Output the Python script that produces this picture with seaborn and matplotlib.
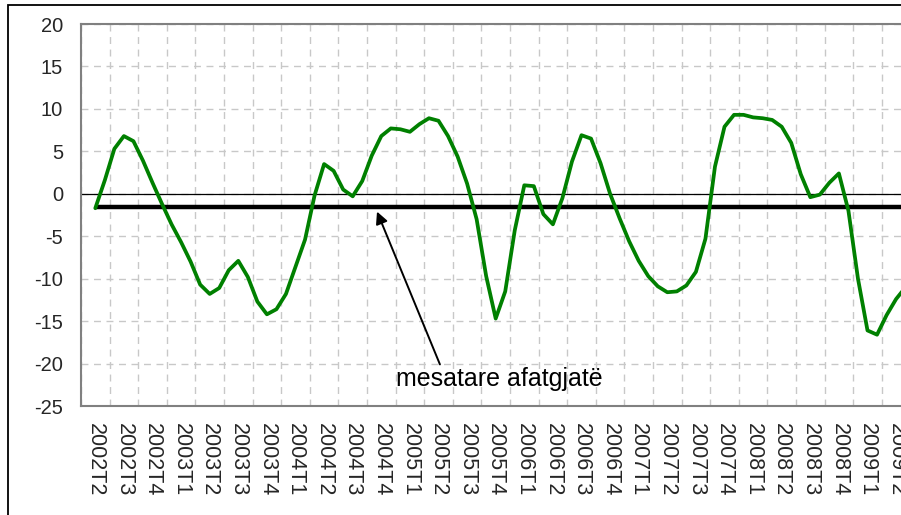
import numpy as np
import pandas as pd
import matplotlib
matplotlib.use("Agg")
import matplotlib.pyplot as plt
from matplotlib.patches import Rectangle
import seaborn as sns

# quarter labels on the category axis
quarters = ["2002T2", "2002T3", "2002T4",
            "2003T1", "2003T2", "2003T3", "2003T4",
            "2004T1", "2004T2", "2004T3", "2004T4",
            "2005T1", "2005T2", "2005T3", "2005T4",
            "2006T1", "2006T2", "2006T3", "2006T4",
            "2007T1", "2007T2", "2007T3", "2007T4",
            "2008T1", "2008T2", "2008T3", "2008T4",
            "2009T1", "2009T2"]

# indicator, read monthly (3 readings per quarter) from the picture
indicator = [-1.7, 1.6, 5.3, 6.8, 6.2, 3.9, 1.3, -1.2, -3.6, -5.7,
             -8.0, -10.7, -11.8, -11.1, -9.0, -7.9, -9.8, -12.7, -14.2, -13.6,
             -11.8, -8.6, -5.4, -0.2, 3.5, 2.7, 0.5, -0.3, 1.5, 4.5,
             6.8, 7.7, 7.6, 7.3, 8.2, 8.9, 8.6, 6.8, 4.4, 1.2,
             -3.0, -9.7, -14.7, -11.5, -4.3, 1.0, 0.9, -2.4, -3.6, -0.5,
             3.8, 6.9, 6.5, 3.6, 0.0, -2.9, -5.6, -7.9, -9.7, -10.9,
             -11.6, -11.5, -10.8, -9.2, -5.3, 3.2, 7.9, 9.3, 9.3, 9.0,
             8.9, 8.7, 7.9, 6.0, 2.3, -0.4, -0.1, 1.3, 2.4, -2.0,
             -10.0, -16.1, -16.6, -14.3, -12.4, -11.0]

long_term_average = -1.5
annotation_label = "mesatare afatgjatë"

n = len(indicator)
pos = np.arange(n) / 3.0  # position in quarter units
df = pd.DataFrame({"pos": pos, "value": indicator,
                   "avg": [long_term_average] * n})

sns.set_style("white")
plt.rcParams["font.family"] = ["Liberation Sans", "DejaVu Sans"]

W, H = 901, 515
fig = plt.figure(figsize=(W / 100, H / 100), dpi=100)
fig.patch.set_facecolor("white")

# axes geometry in pixels
left_px, top_px, bottom_px = 81, 24, 406
cat_w = 28.6
ax_w = cat_w * len(quarters)
ax = fig.add_axes([left_px / W, (H - bottom_px) / H, ax_w / W, (bottom_px - top_px) / H])

# outer chart frame
fig.patches.append(Rectangle((8 / W, -0.2), 1.5, (H - 4.5) / H + 0.2, fill=False,
                             edgecolor="black", lw=1.3, transform=fig.transFigure,
                             figure=fig, clip_on=False))

ax.set_xlim(-0.5, len(quarters) - 0.5)
ax.set_ylim(-25, 20)

# grid
ax.set_yticks(np.arange(-25, 21, 5))
ax.set_xticks(np.arange(len(quarters)))
ax.set_xticks(np.arange(len(quarters) + 1) - 0.5, minor=True)
ax.grid(False)
ax.grid(True, which="major", axis="y", color="#c8c8c8", lw=1.0, linestyle=(0, (5, 4)))
ax.grid(True, which="minor", axis="x", color="#c8c8c8", lw=1.0, linestyle=(0, (5, 4)))
ax.set_axisbelow(True)

ax.axhline(0, color="black", lw=0.9, zorder=2)

sns.lineplot(data=df, x="pos", y="avg", ax=ax, color="black", lw=3.2,
             solid_capstyle="butt", zorder=3)
sns.lineplot(data=df, x="pos", y="value", ax=ax, color="#008000", lw=2.7,
             solid_joinstyle="round", solid_capstyle="round", zorder=4)

ax.set_xticklabels(quarters, rotation=270, fontsize=15.5, ha="center", va="top")
ax.set_yticklabels([str(v) for v in range(-25, 21, 5)], fontsize=14.5)
ax.tick_params(axis="both", which="both", length=0)
ax.tick_params(axis="x", pad=12)
ax.tick_params(axis="y", pad=13)
ax.set_xlabel("")
ax.set_ylabel("")

for s in ["left", "top", "bottom", "right"]:
    ax.spines[s].set_visible(True)
    ax.spines[s].set_color("#808080")
    ax.spines[s].set_linewidth(1.5)

# annotation
ax.annotate("", xy=(9.85, -2.1), xytext=(12.05, -20.1),
            arrowprops=dict(arrowstyle="-|>", color="black", lw=1.4,
                            mutation_scale=18, shrinkA=0, shrinkB=0), zorder=5)
ax.text(14.13, -22.7, annotation_label, fontsize=18, ha="center", va="baseline",
        color="black", zorder=5)

fig.savefig("out.png", dpi=100)
